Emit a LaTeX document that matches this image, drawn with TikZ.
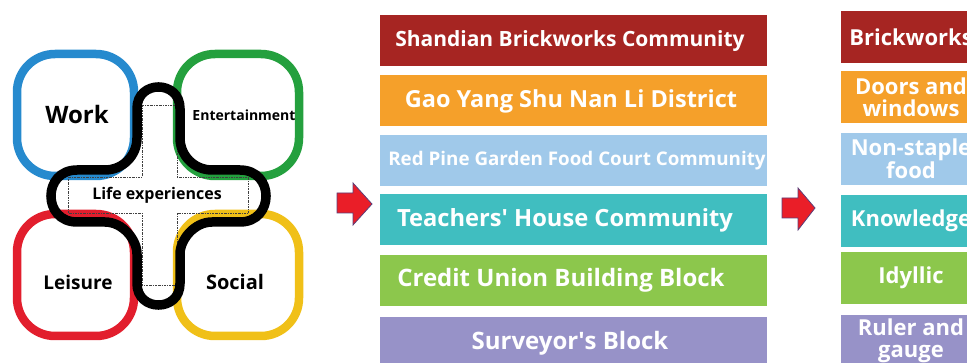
\documentclass[tikz,border=0pt]{standalone}
\usepackage{fontspec}
\setmainfont{Open Sans}

\definecolor{ringblue}{RGB}{38,138,206}
\definecolor{ringgreen}{RGB}{36,160,62}
\definecolor{ringred}{RGB}{226,30,45}
\definecolor{ringyellow}{RGB}{240,192,24}
\definecolor{brickred}{RGB}{166,37,34}
\definecolor{doororange}{RGB}{245,160,42}
\definecolor{foodblue}{RGB}{160,201,234}
\definecolor{teachteal}{RGB}{64,190,192}
\definecolor{creditgreen}{RGB}{140,199,76}
\definecolor{rulerpurple}{RGB}{151,146,200}
\definecolor{arrowred}{RGB}{234,30,40}
\definecolor{arrowedge}{RGB}{92,62,120}

\tikzset{
  lifering/.style={line width=8.5pt, rounded corners=38pt},
  ringlabel/.style={font=\bfseries\fontsize{#1}{#1}\selectfont, inner sep=0pt},
  midbox/.style={minimum width=387pt, minimum height=51pt, inner sep=0pt, text=white,
    font=\bfseries\fontsize{#1}{#1}\selectfont},
  rightbox/.style={minimum width=140pt, minimum height=52pt, inner sep=0pt, text=white,
    align=center, font=\bfseries\fontsize{22pt}{22pt}\selectfont},
  blockarrow/.style={fill=arrowred, draw=arrowedge, line width=0.8pt, line join=miter}
}

\begin{document}
\begin{tikzpicture}[x=1pt, y=-1pt]

    \useasboundingbox (0,0) rectangle (967,363);
    \clip (0,0) rectangle (967,363);

    % four rings
    \draw[lifering, draw=ringblue] (17,54) rectangle (134,176);
    \draw[lifering, draw=ringgreen] (177,54) rectangle (299,176);
    \draw[lifering, draw=ringred] (17,214) rectangle (134,336);
    \draw[lifering, draw=ringyellow] (177,214) rectangle (299,336);

    % dashed plus
    \draw[black!75, line width=0.6pt, dash pattern=on 2pt off 1pt on 0.6pt off 1pt]
        (142,105) -- (177,105) -- (177,177) -- (248,177) -- (248,213) -- (177,213)
        -- (177,285) -- (142,285) -- (142,213) -- (68,213) -- (68,177) -- (142,177) -- cycle;

    % black cross
    \draw[line width=9.5pt, line join=round]
        (137,108.5) .. controls (137,79.8) and (180,79.8) .. (180,108.5)
        -- (180,138) .. controls (180,155.7) and (194.3,170) .. (212,170)
        -- (240,170) .. controls (274.7,170) and (274.7,222) .. (240,222)
        -- (212,222) .. controls (194.3,222) and (180,239.7) .. (180,254)
        -- (180,283.5) .. controls (180,312.2) and (137,312.2) .. (137,283.5)
        -- (137,254) .. controls (137,239.7) and (122.7,222) .. (105,222)
        -- (77,222) .. controls (42.3,222) and (42.3,170) .. (77,170)
        -- (105,170) .. controls (122.7,170) and (137,155.7) .. (137,138)
        -- cycle;

    \node[ringlabel=24pt] (work) at (77,115) {Work};
    \node[ringlabel=14pt] (ent) at (244,115) {Entertainment};
    \node[ringlabel=16pt] (life) at (157,195) {Life experiences};
    \node[ringlabel=19pt] (leisure) at (78,282) {Leisure};
    \node[ringlabel=20pt] (social) at (235,282) {Social};

    % arrows
    \draw[blockarrow] (337,193) -- (353,193) -- (353,183) -- (372,204) -- (353,225)
        -- (353,213) -- (337,213) -- cycle;
    \draw[blockarrow] (782,198) -- (798,198) -- (798,188) -- (815,208) -- (798,230)
        -- (798,218) -- (782,218) -- cycle;

    % communities
    \node[midbox=21pt, fill=brickred] (shandian) at (573.5,41)
        {Shandian Brickworks Community\hspace*{7pt}};
    \node[midbox=23.5pt, fill=doororange] (gaoyang) at (573.5,101)
        {Gao Yang Shu Nan Li District\hspace*{5pt}};
    \node[midbox=18.8pt, fill=foodblue] (redpine) at (573.5,160.5)
        {\hspace*{7pt}Red Pine Garden Food Court Community};
    \node[midbox=23.7pt, fill=teachteal] (teachers) at (573.5,220)
        {Teachers\textquotesingle\ House Community\hspace*{17pt}};
    \node[midbox=24pt, fill=creditgreen] (credit) at (573.5,280.5)
        {Credit Union Building Block\hspace*{25pt}};
    \node[midbox=24pt, fill=rulerpurple] (surveyor) at (573.5,343)
        {Surveyor\textquotesingle s Block\hspace*{7pt}};

    % themes
    \node[rightbox, fill=brickred] (brick) at (911,37.5) {Brickworks};
    \node[rightbox, fill=doororange] (doors) at (911,97.5) {Doors and\\windows};
    \node[rightbox, fill=foodblue] (food) at (911,159) {Non-staple\\food};
    \node[rightbox, fill=teachteal] (know) at (911,221) {Knowledge};
    \node[rightbox, fill=creditgreen] (idyl) at (911,278) {Idyllic};
    \node[rightbox, fill=rulerpurple] (ruler) at (911,341) {Ruler and\\gauge};

\end{tikzpicture}
\end{document}
